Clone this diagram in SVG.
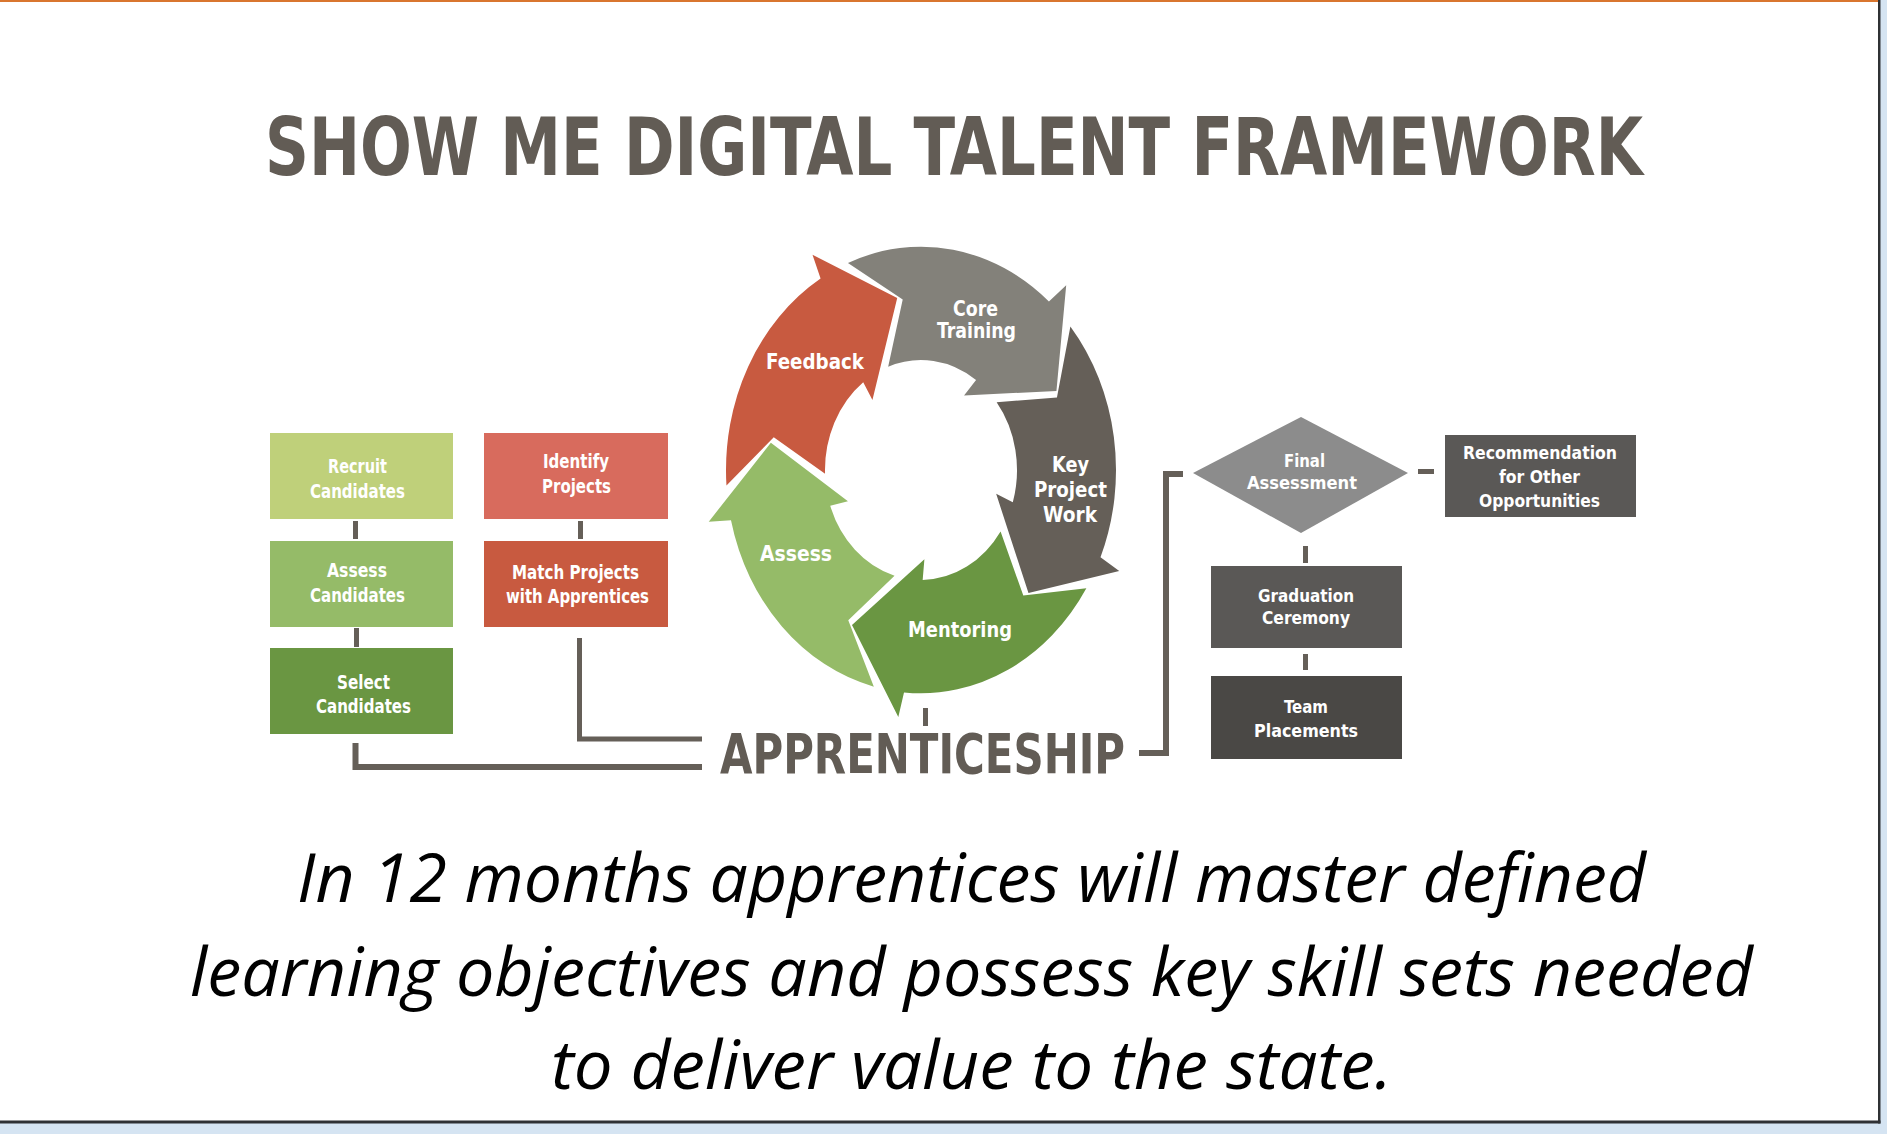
<svg xmlns="http://www.w3.org/2000/svg" xmlns:xlink="http://www.w3.org/1999/xlink" width="1887" height="1134" viewBox="0 0 1887 1134">
  <style>
    .lbl { font-family: "DejaVu Sans Condensed", "DejaVu Sans", "Liberation Sans", sans-serif; font-weight: bold; fill: #ffffff; }
    .box { font-size: 19px; }
    .sm { font-size: 18px; }
    .cyc { font-size: 21px; }
    .heading { font-family: "DejaVu Sans Condensed", "DejaVu Sans", "Liberation Sans", sans-serif; font-weight: bold; fill: #625c55; }
    .conn { stroke: #655f58; fill: none; }
    .caption { font-family: "Open Sans", "Liberation Sans", sans-serif; font-style: italic; font-size: 68px; fill: #000000; }
  </style>
  <defs>
    <!-- one curved arrow of the ring, drawn on a unit circle system: tail at -22deg, tip at 63deg -->
    <path id="ring-arrow" d="M -73.05,-180.80 A 195 195 0 0 1 127.94,-147.17 L 145.20,-161.26 L 135.43,-69.01 L 43.05,-65.04 L 55.06,-78.64 A 96 96 0 0 0 -32.83,-90.21 L -18.28,-148.88 Z"/>
  </defs>

  <!-- slide frame -->
  <rect x="0" y="0" width="1887" height="1134" fill="#d5e4f2"/>
  <rect x="0" y="0" width="1879" height="1121" fill="#ffffff"/>
  <rect x="0" y="0" width="1879" height="2" fill="#d9762f"/>
  <rect x="1878" y="0" width="2.5" height="1123.5" fill="#2f3134"/>
  <rect x="0" y="1120.5" width="1880.5" height="3" fill="#2f3134"/>

  <!-- title, set tall and narrow -->
  <text class="heading" transform="translate(265,175) scale(1,1.4)" x="0" y="0" font-size="57" textLength="1378" lengthAdjust="spacingAndGlyphs">SHOW ME DIGITAL TALENT FRAMEWORK</text>

  <!-- connectors -->
  <g id="connectors">
    <line class="conn" x1="355.5" y1="521" x2="355.5" y2="539" stroke-width="5"/>
    <line class="conn" x1="356.5" y1="628" x2="356.5" y2="647" stroke-width="5"/>
    <path class="conn" d="M 355.5,743 V 767 H 702" stroke-width="6"/>
    <line class="conn" x1="580.5" y1="521" x2="580.5" y2="539" stroke-width="5"/>
    <path class="conn" d="M 579.5,638 V 739 H 702" stroke-width="5"/>
    <line class="conn" x1="925.5" y1="708" x2="925.5" y2="726" stroke-width="5"/>
    <path class="conn" d="M 1139,753 H 1166 V 474 H 1183" stroke-width="6"/>
    <line class="conn" x1="1418" y1="471.5" x2="1434" y2="471.5" stroke-width="5"/>
    <line class="conn" x1="1305.5" y1="546" x2="1305.5" y2="563" stroke-width="5"/>
    <line class="conn" x1="1305.5" y1="654" x2="1305.5" y2="670" stroke-width="5"/>
  </g>

  <!-- candidate track -->
  <g id="recruit-candidates">
    <rect x="270" y="433" width="183" height="86" fill="#bfd07a"/>
    <text class="lbl box" x="328" y="473" textLength="59" lengthAdjust="spacingAndGlyphs">Recruit</text>
    <text class="lbl box" x="310" y="498" textLength="95" lengthAdjust="spacingAndGlyphs">Candidates</text>
  </g>
  <g id="assess-candidates">
    <rect x="270" y="541" width="183" height="86" fill="#95bb68"/>
    <text class="lbl box" x="327" y="577" textLength="60" lengthAdjust="spacingAndGlyphs">Assess</text>
    <text class="lbl box" x="310" y="602" textLength="95" lengthAdjust="spacingAndGlyphs">Candidates</text>
  </g>
  <g id="select-candidates">
    <rect x="270" y="648" width="183" height="86" fill="#6a9642"/>
    <text class="lbl box" x="337" y="689" textLength="53" lengthAdjust="spacingAndGlyphs">Select</text>
    <text class="lbl box" x="316" y="713" textLength="95" lengthAdjust="spacingAndGlyphs">Candidates</text>
  </g>

  <!-- project track -->
  <g id="identify-projects">
    <rect x="484" y="433" width="184" height="86" fill="#d86b5d"/>
    <text class="lbl box" x="543" y="468" textLength="66" lengthAdjust="spacingAndGlyphs">Identify</text>
    <text class="lbl box" x="542" y="493" textLength="69" lengthAdjust="spacingAndGlyphs">Projects</text>
  </g>
  <g id="match-projects">
    <rect x="484" y="541" width="184" height="86" fill="#c85a40"/>
    <text class="lbl box" x="512" y="579" textLength="127" lengthAdjust="spacingAndGlyphs">Match Projects</text>
    <text class="lbl box" x="506" y="603" textLength="143" lengthAdjust="spacingAndGlyphs">with Apprentices</text>
  </g>

  <!-- apprenticeship cycle -->
  <g id="core-training">
    <use xlink:href="#ring-arrow" href="#ring-arrow" transform="translate(921,470) scale(1,1.145)" fill="#83817a"/>
    <text class="lbl cyc" x="953" y="316" textLength="45" lengthAdjust="spacingAndGlyphs">Core</text>
    <text class="lbl cyc" x="937" y="338" textLength="79" lengthAdjust="spacingAndGlyphs">Training</text>
  </g>
  <g id="key-project-work">
    <use xlink:href="#ring-arrow" href="#ring-arrow" transform="translate(921,470) scale(1,1.145) rotate(72)" fill="#655f58"/>
    <text class="lbl cyc" x="1052" y="472" textLength="37" lengthAdjust="spacingAndGlyphs">Key</text>
    <text class="lbl cyc" x="1034" y="497" textLength="73" lengthAdjust="spacingAndGlyphs">Project</text>
    <text class="lbl cyc" x="1043" y="522" textLength="54" lengthAdjust="spacingAndGlyphs">Work</text>
  </g>
  <g id="mentoring">
    <use xlink:href="#ring-arrow" href="#ring-arrow" transform="translate(921,470) scale(1,1.145) rotate(144)" fill="#6a9642"/>
    <text class="lbl cyc" x="908" y="637" textLength="104" lengthAdjust="spacingAndGlyphs">Mentoring</text>
  </g>
  <g id="assess">
    <use xlink:href="#ring-arrow" href="#ring-arrow" transform="translate(921,470) scale(1,1.145) rotate(216)" fill="#95bb68"/>
    <text class="lbl cyc" x="760" y="561" textLength="72" lengthAdjust="spacingAndGlyphs">Assess</text>
  </g>
  <g id="feedback">
    <use xlink:href="#ring-arrow" href="#ring-arrow" transform="translate(921,470) scale(1,1.145) rotate(288)" fill="#c85a40"/>
    <text class="lbl cyc" x="766" y="369" textLength="98" lengthAdjust="spacingAndGlyphs">Feedback</text>
  </g>

  <g id="apprenticeship">
    <text class="heading" transform="translate(720,773) scale(1,1.3)" x="0" y="0" font-size="42" textLength="405" lengthAdjust="spacingAndGlyphs">APPRENTICESHIP</text>
  </g>

  <!-- completion track -->
  <g id="final-assessment">
    <polygon points="1193,473 1301,417 1408,473 1301,533" fill="#8c8c8c"/>
    <text class="lbl sm" x="1284" y="467" textLength="41" lengthAdjust="spacingAndGlyphs">Final</text>
    <text class="lbl sm" x="1247" y="489" textLength="110" lengthAdjust="spacingAndGlyphs">Assessment</text>
  </g>
  <g id="recommendation">
    <rect x="1445" y="435" width="191" height="82" fill="#5a5856"/>
    <text class="lbl sm" x="1463" y="459" textLength="154" lengthAdjust="spacingAndGlyphs">Recommendation</text>
    <text class="lbl sm" x="1499" y="483" textLength="81" lengthAdjust="spacingAndGlyphs">for Other</text>
    <text class="lbl sm" x="1479" y="507" textLength="121" lengthAdjust="spacingAndGlyphs">Opportunities</text>
  </g>
  <g id="graduation-ceremony">
    <rect x="1211" y="566" width="191" height="82" fill="#5a5856"/>
    <text class="lbl sm" x="1258" y="602" textLength="96" lengthAdjust="spacingAndGlyphs">Graduation</text>
    <text class="lbl sm" x="1262" y="624" textLength="88" lengthAdjust="spacingAndGlyphs">Ceremony</text>
  </g>
  <g id="team-placements">
    <rect x="1211" y="676" width="191" height="83" fill="#4a4845"/>
    <text class="lbl sm" x="1284" y="713" textLength="44" lengthAdjust="spacingAndGlyphs">Team</text>
    <text class="lbl sm" x="1254" y="737" textLength="104" lengthAdjust="spacingAndGlyphs">Placements</text>
  </g>

  <!-- caption -->
  <text class="caption" x="297" y="902" textLength="1349" lengthAdjust="spacingAndGlyphs">In 12 months apprentices will master defined</text>
  <text class="caption" x="190" y="996" textLength="1563" lengthAdjust="spacingAndGlyphs">learning objectives and possess key skill sets needed</text>
  <text class="caption" x="551" y="1089" textLength="841" lengthAdjust="spacingAndGlyphs">to deliver value to the state.</text>
</svg>
